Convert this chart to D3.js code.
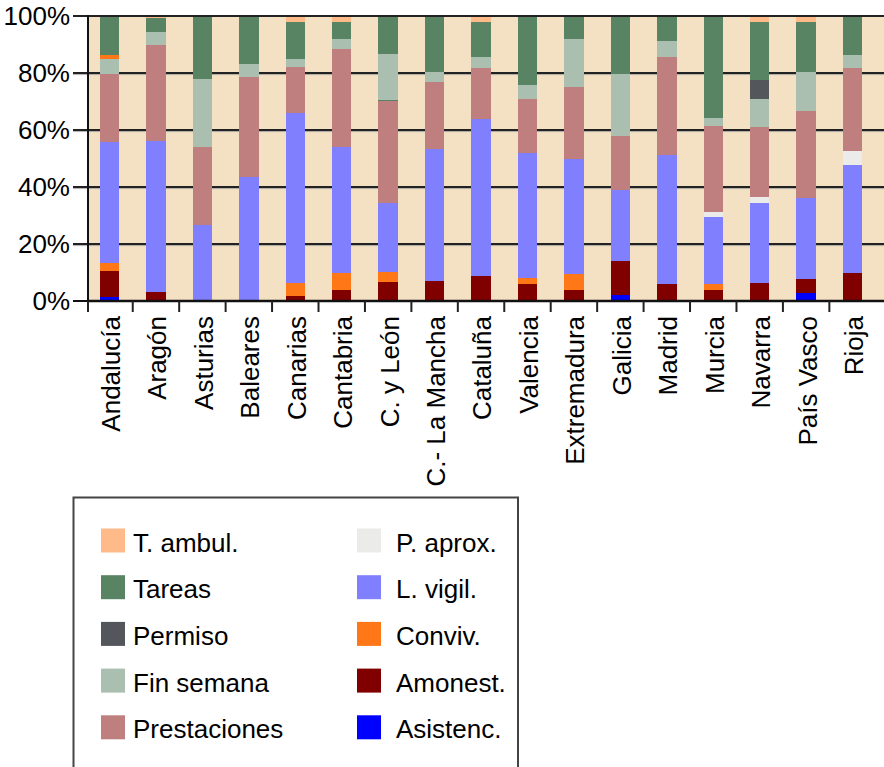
<!DOCTYPE html>
<html>
<head>
<meta charset="utf-8">
<script src="https://cdn.jsdelivr.net/npm/d3@7"></script>
<style>
  html, body { margin: 0; padding: 0; background: #ffffff; }
  svg { display: block; }
  text { font-family: "Liberation Sans", Arial, sans-serif; fill: #000; }
</style>
</head>
<body>
<svg id="chart" width="884" height="767"></svg>
<script>
// ---------- DATA ----------
const regions = ["Andalucía","Aragón","Asturias","Baleares","Canarias","Cantabria","C. y León","C.- La Mancha","Cataluña","Valencia","Extremadura","Galicia","Madrid","Murcia","Navarra","País Vasco","Rioja"];

const asistenc     = [1.5, 0,   0,    0,    0,    0,    0,    0,    0,    0,    0,    2.2,  0,    0,    0,    2.7,  0];
const amonest      = [9.1, 3.3, 0,    0,    1.6,  4.0,  6.8,  7.1,  8.9,  6.1,  4.0,  11.9, 6.1,  4.0,  6.4,  5.1,  9.9];
const conviv       = [2.8, 0,   0,    0,    4.6,  5.7,  3.5,  0,    0,    1.8,  5.3,  0,    0,    2.1,  0,    0,    0];
const lVigil       = [42.5,52.7,26.8, 43.6, 59.8, 44.4, 24.2, 46.3, 55.0, 43.9, 40.7, 25.0, 45.2, 23.5, 28.0, 28.5, 37.9];
const pAprox       = [0,   0,   0,    0,    0,    0,    0,    0,    0,    0,    0,    0,    0,    1.8,  2.1,  0,    4.9];
const prestaciones = [23.7,33.6,27.3, 35.0, 16.1, 34.3, 35.7, 23.5, 17.9, 19.2, 25.2, 18.8, 34.3, 30.1, 24.5, 30.4, 29.1];
const finSemana    = [5.3, 4.6, 23.8, 4.6,  2.8,  3.5,  16.1, 3.5,  3.9,  4.9,  16.8, 21.7, 5.6,  2.8,  9.8,  13.7, 4.6];
const permiso      = [0,   0,   0,    0,    0,    0,    0,    0,    0,    0,    0,    0,    0,    0,    6.7,  0,    0];
const tareas       = [13.7,4.8, 22.1, 16.8, 13.0, 6.0,  13.3, 19.6, 12.3, 24.2, 8.1,  20.3, 8.8,  35.7, 20.3, 17.5, 13.7];
const tAmbul       = [0,   0.6, 0,    0,    2.1,  2.1,  0,    0,    2.1,  0,    0,    0,    0,    0,    2.1,  2.1,  0];
// small out-of-order slivers seen in the original stacks
const convivUpper  = [1.4, 0,   0,    0,    0,    0,    0,    0,    0,    0,    0,    0,    0,    0,    0,    0,    0];
const tareasLow    = [0,   0.3, 0,    0,    0,    0,    0,    0,    0,    0,    0,    0,    0,    0,    0,    0,    0];
const tareasMid    = [0,   0,   0,    0,    0,    0,    0.4,  0,    0,    0,    0,    0,    0,    0,    0,    0,    0];

const yTicks = [0, 20, 40, 60, 80, 100];
const yTickLabels = ["0%","20%","40%","60%","80%","100%"];

const legendCol1 = ["T. ambul.","Tareas","Permiso","Fin semana","Prestaciones"];
const legendCol2 = ["P. aprox.","L. vigil.","Conviv.","Amonest.","Asistenc."];

// ---------- STYLE ----------
const colors = {
  "T. ambul.": "#FFBA8A",
  "Tareas": "#588464",
  "Permiso": "#53565A",
  "Fin semana": "#ABBFB0",
  "Prestaciones": "#BF7F7F",
  "P. aprox.": "#EBECEA",
  "L. vigil.": "#8080FF",
  "Conviv.": "#FF7716",
  "Amonest.": "#800000",
  "Asistenc.": "#0000FF"
};

// stacking layers, bottom to top: [id, series label (colour), values]
const layers = [
  ["asistenc", "Asistenc.", asistenc],
  ["amonest", "Amonest.", amonest],
  ["conviv", "Conviv.", conviv],
  ["lVigil", "L. vigil.", lVigil],
  ["tareasLow", "Tareas", tareasLow],
  ["pAprox", "P. aprox.", pAprox],
  ["prestaciones", "Prestaciones", prestaciones],
  ["tareasMid", "Tareas", tareasMid],
  ["finSemana", "Fin semana", finSemana],
  ["convivUpper", "Conviv.", convivUpper],
  ["permiso", "Permiso", permiso],
  ["tareas", "Tareas", tareas],
  ["tAmbul", "T. ambul.", tAmbul]
];

const table = regions.map((r, i) => {
  const row = { region: r };
  layers.forEach(([id, , vals]) => { row[id] = vals[i]; });
  return row;
});

// ---------- LAYOUT ----------
const svg = d3.select("#chart");
const plotLeft = 88, plotRight = 884, plotTop = 16, plotBottom = 301;
const fontSize = 26;

const x = d3.scaleBand().domain(regions).range([86.3, 875.8]).paddingInner(0).paddingOuter(0);
const y = d3.scaleLinear().domain([0, 100]).range([plotBottom, plotTop]);
const barW = 19.5;

// background
svg.append("rect")
  .attr("x", plotLeft).attr("y", plotTop)
  .attr("width", plotRight - plotLeft + 10).attr("height", plotBottom - plotTop)
  .attr("fill", "#F4E1C3");

// gridlines (with tick extension to the left)
const grid = svg.append("g");
grid.selectAll("line.g").data(yTicks.filter(t => t > 0 && t < 100)).enter().append("line")
  .attr("x1", 73).attr("x2", plotRight + 10)
  .attr("y1", d => y(d)).attr("y2", d => y(d))
  .attr("stroke", "#222").attr("stroke-width", 2);
grid.selectAll("line.s").data(yTicks.filter(t => t > 0 && t < 100)).enter().append("line")
  .attr("x1", 73).attr("x2", plotRight + 10)
  .attr("y1", d => y(d) + 1.6).attr("y2", d => y(d) + 1.6)
  .attr("stroke", "#9a9a9a").attr("stroke-width", 0.8);

// bars
const stack = d3.stack().keys(layers.map(l => l[0]));
const series = stack(table);
const bars = svg.append("g");
series.forEach((s, li) => {
  const col = colors[layers[li][1]];
  bars.selectAll(null).data(s.filter(d => d[1] - d[0] > 0)).enter().append("rect")
    .attr("x", d => x(d.data.region) + (x.bandwidth() - barW) / 2)
    .attr("width", barW)
    .attr("y", d => y(d[1]))
    .attr("height", d => y(d[0]) - y(d[1]))
    .attr("fill", col)
    .attr("shape-rendering", "crispEdges");
});

// top frame line (100%)
svg.append("line")
  .attr("x1", 73).attr("x2", plotRight + 10)
  .attr("y1", y(100)).attr("y2", y(100))
  .attr("stroke", "#222").attr("stroke-width", 2);

// y axis line
svg.append("line")
  .attr("x1", plotLeft).attr("x2", plotLeft)
  .attr("y1", plotTop - 1).attr("y2", plotBottom + 1)
  .attr("stroke", "#111").attr("stroke-width", 2);
// 0% tick
svg.append("line")
  .attr("x1", 73).attr("x2", plotLeft)
  .attr("y1", y(0)).attr("y2", y(0))
  .attr("stroke", "#111").attr("stroke-width", 2);

// x axis line
svg.append("line")
  .attr("x1", plotLeft).attr("x2", plotRight + 10)
  .attr("y1", plotBottom).attr("y2", plotBottom)
  .attr("stroke", "#111").attr("stroke-width", 2.5);

// x ticks at band left edges
svg.append("g").selectAll("line").data(regions).enter().append("line")
  .attr("x1", d => Math.max(plotLeft, x(d))).attr("x2", d => Math.max(plotLeft, x(d)))
  .attr("y1", plotBottom).attr("y2", plotBottom + 11)
  .attr("stroke", "#222").attr("stroke-width", 2);

// y tick labels
svg.append("g").selectAll("text").data(yTicks).enter().append("text")
  .attr("x", 70).attr("y", d => y(d))
  .attr("dy", "0.36em")
  .attr("text-anchor", "end")
  .style("font-size", fontSize + "px")
  .text((d, i) => yTickLabels[i]);

// x tick labels (rotated)
svg.append("g").selectAll("text").data(regions).enter().append("text")
  .attr("transform", d => `translate(${x(d) + x.bandwidth() / 2 + 1},316) rotate(-90)`)
  .attr("dy", "0.36em")
  .attr("text-anchor", "end")
  .style("font-size", fontSize + "px")
  .text(d => d);

// legend
const lg = svg.append("g");
lg.append("rect")
  .attr("x", 73.5).attr("y", 497.5)
  .attr("width", 444.5).attr("height", 300)
  .attr("fill", "#fff").attr("stroke", "#444").attr("stroke-width", 2);

const rowY = i => 528.5 + i * 46.7;
function legendColumn(items, sx, tx) {
  const g = lg.append("g");
  g.selectAll("rect").data(items).enter().append("rect")
    .attr("x", sx).attr("y", (d, i) => rowY(i))
    .attr("width", 24).attr("height", 24)
    .attr("fill", d => colors[d]);
  g.selectAll("text").data(items).enter().append("text")
    .attr("x", tx).attr("y", (d, i) => rowY(i) + 23)
    .style("font-size", fontSize + "px")
    .text(d => d);
}
legendColumn(legendCol1, 101, 133);
legendColumn(legendCol2, 357, 396);
</script>
</body>
</html>
